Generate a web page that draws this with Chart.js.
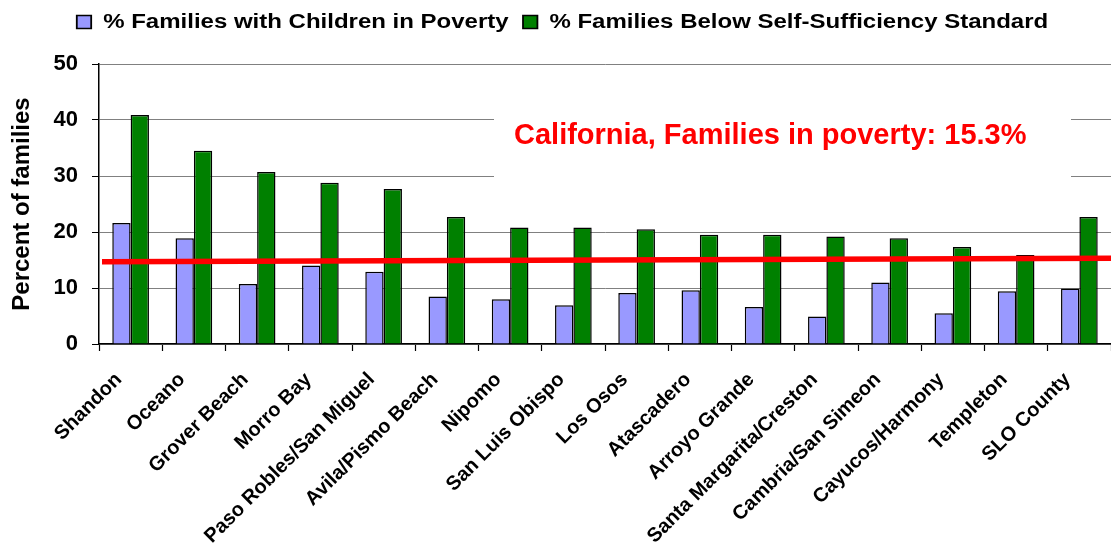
<!DOCTYPE html>
<html>
<head>
<meta charset="utf-8">
<script src="https://cdn.jsdelivr.net/npm/chart.js@4/dist/chart.umd.min.js"></script>
<style>
  html, body { margin: 0; padding: 0; background: #fff; }
  #box { width: 1111px; height: 544px; }
</style>
</head>
<body>
<div id="box"><canvas id="povertyChart"></canvas></div>
<script>
    // Comunidades do condado
    const communities = ['Shandon', 'Oceano', 'Grover Beach', 'Morro Bay', 'Paso Robles/San Miguel',
        'Avila/Pismo Beach', 'Nipomo', 'San Luis Obispo', 'Los Osos', 'Atascadero', 'Arroyo Grande',
        'Santa Margarita/Creston', 'Cambria/San Simeon', 'Cayucos/Harmony', 'Templeton', 'SLO County'];
    const childPoverty = [21.6, 18.9, 10.7, 14.0, 12.9, 8.5, 8.0, 6.9, 9.1, 9.6, 6.6, 4.9, 11.0, 5.5, 9.4, 9.9];
    const belowSelfSufficiency = [40.9, 34.5, 30.7, 28.8, 27.7, 22.7, 20.8, 20.8, 20.5, 19.5, 19.5, 19.2, 18.9, 17.3, 15.9, 22.7];

    // Linha da Califórnia (valor no início e no fim do eixo)
    const californiaLine = [14.7, 15.3];
    const californiaText = 'California, Families in poverty: 15.3%';

    const yTicks = [0, 10, 20, 30, 40, 50];

    const fontFamily = '"Liberation Sans", Arial, sans-serif';

    // Caixa branca com o texto e a linha vermelha da Califórnia
    const californiaNote = {
        id: 'californiaNote',
        beforeDatasetsDraw(chart) {
            const ctx = chart.ctx;
            ctx.save();
            ctx.fillStyle = '#ffffff';
            ctx.fillRect(494, 100, 577, 88);
            ctx.restore();
        },
        afterDatasetsDraw(chart) {
            const ctx = chart.ctx;
            const area = chart.chartArea;
            const y = chart.scales.y;
            ctx.save();
            ctx.strokeStyle = '#ff0000';
            ctx.lineWidth = 5.5;
            ctx.beginPath();
            ctx.moveTo(area.left + 3, y.getPixelForValue(californiaLine[0]));
            ctx.lineTo(area.right, y.getPixelForValue(californiaLine[1]));
            ctx.stroke();

            ctx.fillStyle = '#ff0000';
            ctx.font = 'bold 29px ' + fontFamily;
            ctx.textAlign = 'left';
            ctx.textBaseline = 'alphabetic';
            ctx.fillText(californiaText, 514, 144);
            ctx.restore();
        }
    };

    // Legenda um pouco mais larga e com altura fixa
    const legendStretch = {
        id: 'legendStretch',
        beforeUpdate(chart) {
            const legend = chart.legend;
            if (!legend || legend._stretched) return;
            legend._stretched = true;
            const fit = legend.fit;
            const draw = legend.draw;
            legend.fit = function() {
                fit.call(this);
                this.height = 64;
            };
            legend.draw = function() {
                const ctx = this.ctx;
                const cx = (this.left + this.right) / 2;
                ctx.save();
                ctx.translate(cx + 7, 0);
                ctx.scale(1.2, 1);
                ctx.translate(-cx, 0);
                draw.apply(this, arguments);
                ctx.restore();
            };
        }
    };

    const dataPobreza = {
        labels: communities,
        datasets: [{
            label: '% Families with Children in Poverty',
            data: childPoverty,
            backgroundColor: '#9999ff',
            borderColor: '#000000',
            borderWidth: 1.5
        }, {
            label: '% Families Below Self-Sufficiency Standard',
            data: belowSelfSufficiency,
            backgroundColor: '#008000',
            borderColor: '#000000',
            borderWidth: 1.5
        }]
    };

    const configPobreza = {
        type: 'bar',
        data: dataPobreza,
        options: {
            responsive: true,
            maintainAspectRatio: false,
            animation: false,
            layout: {
                padding: { left: 0, right: 0, top: 0, bottom: 0 }
            },
            datasets: {
                bar: {
                    categoryPercentage: 0.58,
                    barPercentage: 1.0
                }
            },
            scales: {
                x: {
                    afterFit: function(scale) {
                        scale.height = 200;
                        scale.paddingLeft = 0;
                        scale.paddingRight = 0;
                    },
                    grid: {
                        drawOnChartArea: false,
                        offset: true,
                        tickLength: 7,
                        tickColor: '#000000',
                        tickWidth: 1.2
                    },
                    border: { color: '#000000', width: 1.5 },
                    ticks: {
                        color: '#000000',
                        maxRotation: 45,
                        minRotation: 45,
                        autoSkip: false,
                        padding: 17,
                        labelOffset: -12,
                        font: { family: fontFamily, size: 20, weight: 'bold' }
                    }
                },
                y: {
                    min: 0,
                    max: 50,
                    afterBuildTicks: function(scale) {
                        scale.ticks = yTicks.map(v => ({ value: v }));
                    },
                    afterFit: function(scale) {
                        scale.width = 99;
                    },
                    grid: {
                        color: '#808080',
                        lineWidth: 1,
                        tickLength: 7,
                        tickColor: '#000000'
                    },
                    border: { color: '#000000', width: 1.5 },
                    ticks: {
                        color: '#000000',
                        padding: 14,
                        font: { family: fontFamily, size: 22, weight: 'bold' }
                    },
                    title: {
                        display: true,
                        text: 'Percent of families',
                        color: '#000000',
                        padding: { top: 8, bottom: 0 },
                        font: { family: fontFamily, size: 24, weight: 'bold' }
                    }
                }
            },
            plugins: {
                legend: {
                    display: true,
                    position: 'top',
                    labels: {
                        color: '#000000',
                        boxWidth: 12,
                        boxHeight: 13,
                        padding: 12,
                        font: { family: fontFamily, size: 20, weight: 'bold' }
                    }
                },
                tooltip: { enabled: false }
            }
        },
        plugins: [californiaNote, legendStretch]
    };

    const ctxPobreza = document.getElementById('povertyChart').getContext('2d');
    const graficoPobreza = new Chart(ctxPobreza, configPobreza);
</script>
</body>
</html>
